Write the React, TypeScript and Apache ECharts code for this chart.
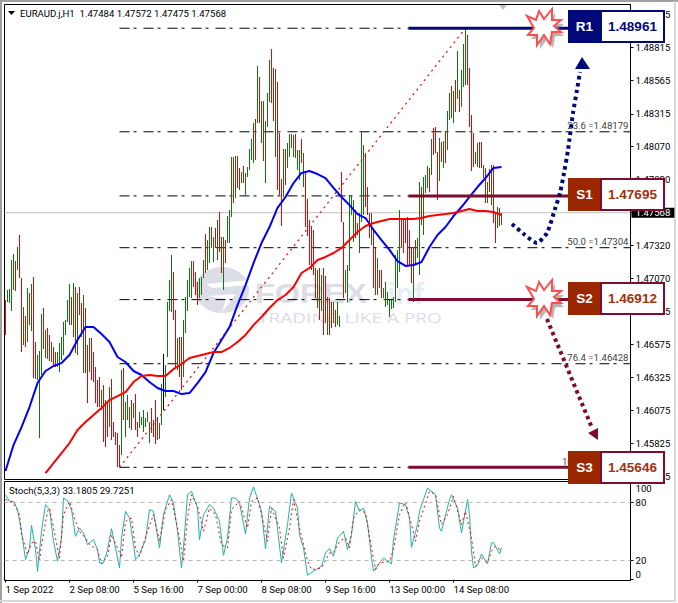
import React, { useEffect, useRef } from 'react';
import * as echarts from 'echarts';

// prices of the H1 bars, one entry per hour
const barHighs = [
  1.46909, 1.46985, 1.46992, 1.47211, 1.47256, 1.47203, 1.47309, 1.474, 1.47075, 1.46856,
  1.46788, 1.47, 1.46962, 1.4703, 1.47083, 1.46592, 1.46494, 1.46524, 1.46803, 1.46849,
  1.46683, 1.46698, 1.46645, 1.46592, 1.46554, 1.46516, 1.46516, 1.46584, 1.4663, 1.46743,
  1.46758, 1.46909, 1.4703, 1.46932, 1.47037, 1.47007, 1.46962, 1.47007, 1.46886, 1.46947,
  1.46849, 1.46569, 1.46622, 1.46622, 1.46516, 1.46403, 1.46305, 1.46328, 1.4623, 1.46267,
  1.46154, 1.46131, 1.46252, 1.46313, 1.45988, 1.45913, 1.45905, 1.45814, 1.46381, 1.46396,
  1.46139, 1.46192, 1.46101, 1.46154, 1.46131, 1.46199, 1.45988, 1.46063, 1.46026, 1.46079,
  1.46018, 1.46063, 1.45988, 1.46094, 1.46003, 1.46154, 1.46026, 1.4598, 1.46275, 1.46501,
  1.46418, 1.46894, 1.4706, 1.47249, 1.4712, 1.46834, 1.46622, 1.4663, 1.4663, 1.46758,
  1.46932, 1.4706, 1.47151, 1.47203, 1.47203, 1.4712, 1.47045, 1.47075, 1.47083, 1.47211,
  1.47407, 1.47362, 1.4746, 1.4746, 1.47385, 1.47453, 1.47513, 1.47573, 1.47385, 1.47385,
  1.47362, 1.47543, 1.47589, 1.47989, 1.47989, 1.47996, 1.47996, 1.47906, 1.47875, 1.47921,
  1.47868, 1.47913, 1.48049, 1.48125, 1.48245, 1.48276, 1.48676, 1.48593, 1.48411, 1.48411,
  1.4826, 1.48472, 1.48721, 1.48804, 1.48661, 1.48653, 1.48555, 1.4817, 1.47823, 1.48049,
  1.48049, 1.48094, 1.48162, 1.48162, 1.48155, 1.48162, 1.48042, 1.48042, 1.48125, 1.48019,
  1.47875, 1.47672, 1.47513, 1.47468, 1.47437, 1.47151, 1.47136, 1.47151, 1.47098, 1.47151,
  1.4709, 1.46932, 1.46924, 1.46894, 1.46894, 1.46834, 1.46894, 1.46788, 1.47875, 1.47498,
  1.47136, 1.47173, 1.47702, 1.47702, 1.47664, 1.47589, 1.4749, 1.47566, 1.48177, 1.48079,
  1.48019, 1.47762, 1.47566, 1.47566, 1.47453, 1.47302, 1.47226, 1.47136, 1.47136, 1.47,
  1.47045, 1.4697, 1.46909, 1.46909, 1.46932, 1.47249, 1.47287, 1.47589, 1.47513, 1.47513,
  1.47513, 1.47536, 1.47437, 1.47309, 1.47309, 1.47362, 1.47377, 1.478, 1.47762, 1.47838,
  1.47853, 1.47921, 1.47906, 1.48125, 1.48208, 1.48215, 1.48026, 1.48132, 1.48102, 1.48109,
  1.48185, 1.48336, 1.48472, 1.48525, 1.48487, 1.4857, 1.48789, 1.48495, 1.48646, 1.48842,
  1.48963, 1.4891, 1.48661, 1.48306, 1.4817, 1.48026, 1.48094, 1.48102, 1.48102, 1.47928,
  1.47906, 1.478, 1.47898, 1.47928, 1.47928, 1.47566, 1.47611, 1.47604, 1.47566,
];
const barLows = [
  1.46645, 1.46894, 1.46886, 1.46826, 1.46985, 1.46977, 1.47136, 1.47075, 1.46516, 1.46569,
  1.46554, 1.46592, 1.4672, 1.46675, 1.4632, 1.46313, 1.46305, 1.45867, 1.46343, 1.46539,
  1.46471, 1.46464, 1.46448, 1.46441, 1.46418, 1.46403, 1.46403, 1.46365, 1.46456, 1.46494,
  1.46645, 1.46743, 1.4672, 1.4672, 1.4663, 1.46509, 1.46494, 1.46796, 1.4663, 1.46358,
  1.46358, 1.46131, 1.46365, 1.46305, 1.4629, 1.46131, 1.46101, 1.46101, 1.46079, 1.45837,
  1.45799, 1.45875, 1.4595, 1.45852, 1.45875, 1.45814, 1.45648, 1.45648, 1.45739, 1.46003,
  1.45875, 1.46003, 1.45943, 1.45928, 1.46018, 1.45928, 1.45875, 1.45943, 1.45965, 1.45913,
  1.4595, 1.45988, 1.45829, 1.45905, 1.45875, 1.45822, 1.45852, 1.4586, 1.45965, 1.46079,
  1.46177, 1.46479, 1.46826, 1.46818, 1.46758, 1.46396, 1.46381, 1.46328, 1.4623, 1.46328,
  1.4666, 1.46826, 1.46932, 1.46924, 1.47007, 1.46947, 1.46871, 1.46924, 1.46947, 1.47075,
  1.47113, 1.47136, 1.47188, 1.47302, 1.47196, 1.47302, 1.47211, 1.47271, 1.47113, 1.46985,
  1.47188, 1.47339, 1.47339, 1.47536, 1.47641, 1.47679, 1.47755, 1.4774, 1.47792, 1.47792,
  1.47702, 1.47838, 1.4789, 1.47966, 1.47943, 1.47966, 1.48245, 1.48245, 1.48094, 1.47958,
  1.47792, 1.48215, 1.48404, 1.48396, 1.4826, 1.47989, 1.4774, 1.47702, 1.47468, 1.47687,
  1.47777, 1.47906, 1.47989, 1.48057, 1.47989, 1.47981, 1.4789, 1.47815, 1.47943, 1.47762,
  1.4746, 1.47392, 1.47173, 1.47136, 1.47098, 1.46924, 1.46849, 1.46758, 1.46826, 1.46645,
  1.46735, 1.46645, 1.46645, 1.46698, 1.46735, 1.46705, 1.4672, 1.46705, 1.47498, 1.46924,
  1.46962, 1.46894, 1.47128, 1.47551, 1.47347, 1.47377, 1.474, 1.47264, 1.47498, 1.47551,
  1.47611, 1.47551, 1.47377, 1.47324, 1.47, 1.46947, 1.46947, 1.47, 1.46924, 1.46924,
  1.46856, 1.46871, 1.4678, 1.46841, 1.46849, 1.46894, 1.47, 1.4712, 1.47302, 1.47264,
  1.47339, 1.47173, 1.47173, 1.47037, 1.46894, 1.47173, 1.47226, 1.47098, 1.47475, 1.474,
  1.47717, 1.47755, 1.47724, 1.47853, 1.48004, 1.48019, 1.47664, 1.47807, 1.47951, 1.47906,
  1.47943, 1.48042, 1.48268, 1.48283, 1.48245, 1.48328, 1.48427, 1.48328, 1.48366, 1.48517,
  1.48532, 1.48532, 1.48215, 1.47883, 1.47913, 1.47936, 1.47913, 1.47906, 1.47906, 1.4783,
  1.47641, 1.47641, 1.47724, 1.47626, 1.4749, 1.47339, 1.47453, 1.47468, 1.47475,
];
// r = bear bar, g = bull bar, k = doji
const barDirs =
  'rggggrgrrg' + 'rgrgrrgggr' + 'grrgrrgggg' + 'gggrgrgrrg' + 'rrgrrrrrgr' +
  'rrgrrrrrgr' + 'gggrgrrggg' + 'gggrrrrggk' + 'ggggrrgrrg' + 'ggggrrrggg' +
  'rggrgrgrrg' + 'rgggrgrrgr' + 'gggggrgrgr' + 'gggrrgrrrg' + 'rggrgrggrg' +
  'rrrrrrgrgr' + 'rgrrgrggrr' + 'gggggrrggg' + 'rrrgrrgrrg' + 'ggggggggrr' +
  'rrrrgrggrg' + 'ggrgrrrgrg' + 'rggrgrgrgg' + 'grrrrggrrg' + 'rgrgrrgrg';

// fast MA, every 4th bar from bar 0
const blueMa = [
  1.45618, 1.45814, 1.4595, 1.46101, 1.46282, 1.46373, 1.46411, 1.46433, 1.46494, 1.46607,
  1.46705, 1.46705, 1.46652, 1.46592, 1.46479, 1.46441, 1.46373, 1.46343, 1.4629, 1.46245,
  1.46222, 1.46222, 1.46199, 1.46207, 1.46282, 1.46365, 1.46509, 1.46607, 1.46705, 1.46871,
  1.47022, 1.47188, 1.47339, 1.4746, 1.47604, 1.47687, 1.47792, 1.47868, 1.47883, 1.4786,
  1.4783, 1.47755, 1.47687, 1.47626, 1.47558, 1.47528, 1.47438, 1.47362, 1.47287, 1.47203,
  1.47166, 1.47173, 1.47196, 1.47309, 1.474, 1.4746, 1.47543, 1.47611, 1.47687, 1.47762,
  1.4783, 1.47906, 1.47913,
];
// slow MA, every 4th bar from bar 20
const redMaStart = 20;
const redMa = [
  1.45603, 1.45678, 1.45754, 1.45829, 1.45928, 1.45988, 1.46041, 1.46094, 1.46154, 1.46184,
  1.46214, 1.4629, 1.46335, 1.46343, 1.46335, 1.46335, 1.46388, 1.46426, 1.46471, 1.46486,
  1.46501, 1.46516, 1.46516, 1.46547, 1.46592, 1.46645, 1.4672, 1.46781, 1.46849, 1.46909,
  1.46947, 1.47007, 1.47113, 1.47151, 1.47211, 1.47234, 1.47264, 1.47302, 1.47362, 1.47422,
  1.47468, 1.4749, 1.47505, 1.4752, 1.4752, 1.4752, 1.4752, 1.47528, 1.47543, 1.47551,
  1.47558, 1.47566, 1.47581, 1.47596, 1.47581, 1.47581, 1.47573, 1.47551,
];

const stochMainBars = [
  0, 2, 4, 6, 8, 10, 12, 13, 15, 16, 18, 20, 22, 24, 26, 28, 29, 31, 33, 35, 37, 39, 41, 44, 46, 47, 49, 51, 53, 55,
  57, 58, 60, 62, 64, 65, 67, 70, 72, 74, 77, 79, 82, 84, 86, 88, 89, 91, 93, 96, 97, 99, 102, 104, 107, 109, 111, 113, 115, 117,
  120, 122, 124, 127, 128, 130, 132, 135, 138, 141, 143, 146, 147, 149, 151, 154, 158, 160, 162, 164, 166, 169, 171, 173, 175, 177, 179, 181, 183, 184,
  187, 189, 193, 194, 197, 200, 202, 203, 206, 207, 211, 215, 217, 218, 222, 223, 226, 228, 231, 232, 233, 234, 236, 238, 241, 243, 244, 247, 248,
];
const stochMain = [
  87.9, 81, 81, 72.4, 50, 20.7, 32.8, 56.2, 31, 8.6, 50, 77.6, 72.4, 39.7, 19, 43, 84.5, 81.7, 72.4, 44.8, 53.4, 48.3, 36.2, 41.4, 31, 17.2, 17.2, 31, 52.8, 32.8,
  12, 43, 70.7, 63.8, 36.2, 20.7, 25.9, 41.4, 72.4, 70.7, 32.8, 67.2, 87.9, 79.3, 50, 12, 32.8, 87.9, 91.4, 74.1, 41.4, 67.2, 77.6, 74.1, 60.3, 25.2, 43, 84.5, 84.5, 79.3,
  47.2, 84.5, 95.9, 77.6, 70.7, 32.1, 75.9, 70.7, 17.2, 56.9, 89.7, 74.1, 46.6, 32.8, 4.5, 8.6, 13.8, 27.6, 32.1, 24.1, 43, 50, 31, 46.6, 81, 70.7, 74.1, 58.6, 22.4, 8.6,
  17.2, 22.4, 16.2, 41.4, 79.3, 77.6, 63.8, 33.4, 56.9, 70.7, 94.8, 87.9, 53.4, 50, 82.8, 87.9, 74.1, 48.3, 82.8, 67.2, 29.3, 12, 14.8, 26.6, 16.2, 37.9, 38.6, 26.6, 33.18,
];
const stochSignalBars = [
  0, 4, 7, 8, 11, 13, 15, 17, 18, 21, 22, 25, 27, 29, 32, 35, 37, 40, 42, 46, 48, 51, 53, 56, 58, 60, 63, 65, 67, 71,
  74, 77, 80, 83, 86, 89, 91, 93, 96, 99, 102, 105, 108, 111, 113, 117, 121, 123, 126, 128, 131, 133, 137, 139, 142, 144, 147, 151, 153, 158,
  162, 164, 167, 170, 172, 174, 177, 180, 183, 185, 187, 192, 194, 197, 200, 203, 205, 207, 212, 215, 218, 221, 224, 228, 230, 233, 235, 238, 241, 243, 245, 248,
];
const stochSignal = [
  82.8, 79.3, 67.2, 46.6, 25.9, 37.9, 39.7, 19, 36.2, 70.7, 74.1, 43, 22.4, 67.2, 81, 60.3, 50, 43, 36.2, 31, 16.2, 24.1, 46.6, 32.8, 22.4, 60.3, 63.8, 32.8, 24.1, 50,
  67.2, 39.7, 72.4, 82.8, 53.4, 19, 63.8, 87.9, 75.9, 50, 74.1, 67.2, 36.2, 32.8, 72.4, 81, 53.4, 81, 84.5, 67.2, 39.7, 74.1, 53.4, 22.4, 53.4, 82.8, 53.4, 19, 10.3, 12,
  27.6, 27.6, 39.7, 43.1, 32.8, 63.8, 72.4, 69, 32.8, 10.3, 17.2, 19, 31, 67.2, 80.3, 56.9, 39.7, 60.3, 91.4, 87.9, 56.9, 67.2, 86.2, 56.9, 70.7, 43.1, 13.8, 22.4, 17.2, 29.3, 34.5, 29.73,
];

// fibonacci grid, labels under the call-out boxes are left out
const fibPrices = [1.48961, 1.48179, 1.47695, 1.47304, 1.46912, 1.46428, 1.45646];
const fibLabelNames = ['23.6', '50.0', '76.4', '100.0'];
const fibLabelPrices = [1.48179, 1.47304, 1.46428, 1.45646];
const fibStartBar = 57;
const lastSlot = 312.5;
const trendBars = [57, 230];
const trendPrices = [1.45646, 1.48961];

const priceTicks = [
  1.49065, 1.48815, 1.48565, 1.48315, 1.4807, 1.4782, 1.4757, 1.4732, 1.4707, 1.46825,
  1.46575, 1.46325, 1.46075, 1.45825, 1.45575,
];
// 1.47570 sits under the black last price tag
const priceLabels = priceTicks.filter(v => v !== 1.4757);
const timeBars = [0, 32, 64, 96, 128, 160, 192, 224];
const timeLabels = [
  '1 Sep 2022', '2 Sep 08:00', '5 Sep 16:00', '7 Sep 00:00',
  '8 Sep 08:00', '9 Sep 16:00', '13 Sep 00:00', '14 Sep 08:00',
];
const stochTicks = [0, 20, 80, 100];
const lastPrice = 1.47568;

// support / resistance call-outs
const levelNames = ['R1', 'S1', 'S2', 'S3'];
const levelPrices = [1.48961, 1.47695, 1.46912, 1.45646];
const levelColors = ['#00087a', '#7d0c2e', '#7d0c2e', '#7d0c2e'];
const levelBoxTops = [10, 178, 282, 451];
const levelStartBar = 201.5;
const levelEndBar = 281.5;

const AXIS_FONT = 'Roboto';
const NAVY = '#00087a';
const MAROON = '#7d0c2e';
const BROWN = '#9b2700';

const starPoints = [
  [-17, -11], [-8, -7], [-5, -16], [0, -8], [8, -18], [8, -7], [17, -7], [10, -1],
  [17, 5], [8, 5], [6, 17], [0, 8], [-7, 18], [-7, 8], [-16, 8], [-10, 1],
];

const star = (cx: number, cy: number) => [
  {
    type: 'polygon',
    z: 50,
    shape: { points: starPoints.map(p => [p[0] + cx + 3, p[1] + cy + 4]) },
    style: { fill: 'rgba(120,120,120,0.45)', shadowBlur: 3, shadowColor: 'rgba(120,120,120,0.5)' },
  },
  {
    type: 'polygon',
    z: 51,
    shape: { points: starPoints.map(p => [p[0] + cx, p[1] + cy]) },
    style: { fill: '#ffffff', stroke: '#ff4d4d', lineWidth: 2 },
  },
];

const levelBox = (i: number) => {
  const top = levelBoxTops[i];
  const isResistance = levelNames[i] === 'R1';
  const fill = isResistance ? NAVY : BROWN;
  const height = 33;
  return [
    { type: 'rect', z: 60, shape: { x: 568, y: top, width: 33, height }, style: { fill } },
    {
      type: 'rect',
      z: 60,
      shape: { x: 601, y: top + 1, width: 63, height: height - 2 },
      style: { fill: '#ffffff', stroke: levelColors[i], lineWidth: 2 },
    },
    {
      type: 'text',
      z: 61,
      style: {
        x: 584.5,
        y: top + height / 2,
        text: levelNames[i],
        fill: '#ffffff',
        font: 'bold 13.5px "Liberation Sans"',
        align: 'center',
        verticalAlign: 'middle',
      },
    },
    {
      type: 'text',
      z: 61,
      style: {
        x: 632.5,
        y: top + height / 2,
        text: levelPrices[i].toFixed(5),
        fill: isResistance ? NAVY : '#a5300c',
        font: 'bold 13.5px "Liberation Sans"',
        align: 'center',
        verticalAlign: 'middle',
      },
    },
  ];
};

const App: React.FC = () => {
  const chartRef = useRef<HTMLDivElement>(null);

  useEffect(() => {
    if (!chartRef.current) return;
    document.body.style.margin = '0';

    const chart = echarts.init(chartRef.current, undefined, { renderer: 'svg' });

    const barData = barHighs.map((high, i) => [i, high, barLows[i], barDirs[i]]);

    const option: any = {
      animation: false,
      backgroundColor: '#ffffff',
      grid: [
        { left: 4.5, top: 4.5, width: 626, height: 475, show: true, borderColor: '#000', borderWidth: 1, backgroundColor: 'transparent' },
        { left: 4.5, top: 483, width: 626, height: 96.6 },
      ],
      xAxis: [
        { type: 'value', gridIndex: 0, min: -0.5, max: lastSlot, show: false },
        {
          type: 'value',
          gridIndex: 1,
          min: -0.5,
          max: lastSlot,
          splitLine: { show: false },
          axisLine: { show: false },
          axisTick: { show: true, length: 3, customValues: timeBars, lineStyle: { color: '#000' } },
          axisLabel: {
            customValues: timeBars,
            align: 'left',
            margin: 5,
            fontFamily: AXIS_FONT,
            fontSize: 9.6,
            color: '#000',
            formatter: (v: number) => timeLabels[timeBars.indexOf(v)] ?? '',
          },
        },
      ],
      yAxis: [
        {
          type: 'value',
          gridIndex: 0,
          position: 'right',
          min: 1.45554,
          max: 1.4914,
          splitLine: { show: false },
          axisLine: { show: true, onZero: false, lineStyle: { color: '#000' } },
          axisTick: { show: true, length: 3, customValues: priceTicks, lineStyle: { color: '#000' } },
          axisLabel: {
            customValues: priceLabels,
            margin: 5,
            fontFamily: AXIS_FONT,
            fontSize: 9.6,
            color: '#000',
            formatter: (v: number) => v.toFixed(5),
          },
        },
        {
          type: 'value',
          gridIndex: 1,
          position: 'right',
          min: 0,
          max: 100,
          splitLine: { show: false },
          axisLine: { show: true, onZero: false, lineStyle: { color: '#000' } },
          axisTick: { show: true, length: 3, customValues: stochTicks, lineStyle: { color: '#000' } },
          axisLabel: {
            customValues: stochTicks,
            margin: 5,
            fontFamily: AXIS_FONT,
            fontSize: 9.6,
            color: '#000',
            verticalAlignMaxLabel: 'top',
            verticalAlignMinLabel: 'bottom',
          },
        },
      ],
      series: [
        // last price line with its tag on the axis
        {
          type: 'line',
          xAxisIndex: 0,
          yAxisIndex: 0,
          z: 1,
          silent: true,
          symbol: 'none',
          lineStyle: { color: '#c0c0c0', width: 1 },
          data: [[-0.5, lastPrice], [lastSlot, lastPrice]],
          endLabel: {
            show: true,
            distance: 1,
            formatter: lastPrice.toFixed(5),
            backgroundColor: '#000',
            color: '#fff',
            fontFamily: AXIS_FONT,
            fontSize: 9.6,
            padding: [0, 4, 0, 4],
            lineHeight: 10,
          },
        },
        // fib levels
        ...fibPrices.map(price => ({
          type: 'line',
          xAxisIndex: 0,
          yAxisIndex: 0,
          z: 1,
          silent: true,
          symbol: 'none',
          lineStyle: { color: '#000', width: 1, type: [10, 4, 3, 7] },
          data: [[fibStartBar, price], [lastSlot, price]],
        })),
        {
          type: 'scatter',
          xAxisIndex: 0,
          yAxisIndex: 0,
          z: 3,
          silent: true,
          symbolSize: 0,
          data: fibLabelPrices.map(price => [lastSlot, price]),
          label: {
            show: true,
            position: 'left',
            offset: [0, -6],
            distance: 2,
            fontFamily: AXIS_FONT,
            fontSize: 9.6,
            color: '#000',
            formatter: (p: any) => `${fibLabelNames[p.dataIndex]} =${fibLabelPrices[p.dataIndex].toFixed(5)}`,
          },
        },
        // dotted trend line of the fib grid
        {
          type: 'line',
          xAxisIndex: 0,
          yAxisIndex: 0,
          z: 2,
          silent: true,
          symbol: 'none',
          lineStyle: { color: '#f00000', width: 1.2, type: [2, 4] },
          data: trendBars.map((bar, i) => [bar, trendPrices[i]]),
        },
        // bars
        {
          type: 'custom',
          xAxisIndex: 0,
          yAxisIndex: 0,
          z: 3,
          silent: true,
          encode: { x: 0, y: [1, 2] },
          data: barData,
          renderItem: (_params: any, api: any) => {
            const bar = api.value(0);
            const top = api.coord([bar, api.value(1)]);
            const bottom = api.coord([bar, api.value(2)]);
            const dir = barDirs[bar];
            return {
              type: 'line',
              shape: { x1: top[0], y1: top[1], x2: bottom[0], y2: bottom[1] },
              style: {
                stroke: dir === 'r' ? '#f00000' : dir === 'g' ? '#0a7a0a' : '#000000',
                lineWidth: 1,
              },
            };
          },
        },
        // moving averages
        {
          type: 'line',
          xAxisIndex: 0,
          yAxisIndex: 0,
          z: 4,
          silent: true,
          symbol: 'none',
          lineStyle: { color: '#0000ff', width: 2 },
          data: blueMa.map((v, i) => [i * 4, v]),
        },
        {
          type: 'line',
          xAxisIndex: 0,
          yAxisIndex: 0,
          z: 4,
          silent: true,
          symbol: 'none',
          lineStyle: { color: '#ff0000', width: 2 },
          data: redMa.map((v, i) => [redMaStart + i * 4, v]),
        },
        // S/R lines
        ...levelPrices.map((price, i) => ({
          type: 'line',
          xAxisIndex: 0,
          yAxisIndex: 0,
          z: 5,
          silent: true,
          symbol: 'none',
          lineStyle: { color: levelColors[i], width: 3 },
          data: [[levelStartBar, price], [levelEndBar, price]],
        })),
        // stochastic
        {
          type: 'line',
          xAxisIndex: 1,
          yAxisIndex: 1,
          z: 3,
          silent: true,
          symbol: 'none',
          lineStyle: { color: '#20b2aa', width: 1 },
          data: stochMain.map((v, i) => [stochMainBars[i], v]),
          markLine: {
            silent: true,
            symbol: 'none',
            animation: false,
            label: { show: false },
            lineStyle: { color: '#b8b8b8', width: 1, type: [4, 4] },
            data: [{ yAxis: 80 }, { yAxis: 20 }],
          },
        },
        {
          type: 'line',
          xAxisIndex: 1,
          yAxisIndex: 1,
          z: 4,
          silent: true,
          symbol: 'none',
          lineStyle: { color: '#ff0000', width: 1, type: [2, 3] },
          data: stochSignal.map((v, i) => [stochSignalBars[i], v]),
        },
      ],
      graphic: [
        // window edge
        { type: 'polyline', z: 1, shape: { points: [[1, 603], [1, 1], [678, 1]] }, style: { stroke: '#a0a0a0', lineWidth: 2, fill: 'none' } },
        { type: 'polyline', z: 1, shape: { points: [[675, 1], [675, 601], [0, 601]] }, style: { stroke: '#d8d8d8', lineWidth: 2, fill: 'none' } },
        // stochastic pane frame
        { type: 'rect', z: 1, shape: { x: 4.5, y: 481.5, width: 626, height: 99 }, style: { fill: 'none', stroke: '#000', lineWidth: 1 } },
        // watermark
        { type: 'ellipse', z: 0, shape: { cx: 222, cy: 290, rx: 27, ry: 23 }, style: { fill: '#dcdde6' } },
        { type: 'polygon', z: 0, shape: { points: [[206, 284], [250, 280], [250, 285], [212, 288]] }, style: { fill: '#ffffff' } },
        { type: 'polygon', z: 0, shape: { points: [[208, 296], [236, 294], [222, 312], [226, 299]] }, style: { fill: '#ffffff' } },
        {
          type: 'text',
          z: 0,
          x: 255,
          y: 293,
          scaleX: 1.16,
          style: { x: 0, y: 0, text: 'FOREX', fill: '#dcdde6', font: 'bold 28px "Liberation Sans"', align: 'left', verticalAlign: 'middle' },
        },
        {
          type: 'text',
          z: 0,
          x: 387,
          y: 293,
          style: { x: 0, y: 0, text: 'inf', fill: '#e4eef3', font: 'bold 30px "Liberation Sans"', align: 'left', verticalAlign: 'middle' },
        },
        {
          type: 'text',
          z: 0,
          x: 258,
          y: 318,
          scaleX: 1.36,
          style: { x: 0, y: 0, text: 'TRADING LIKE A PRO', fill: '#dcdde6', font: '14px "Open Sans"', align: 'left', verticalAlign: 'middle' },
        },
        // legends
        { type: 'polygon', z: 30, shape: { points: [[8, 11], [15, 11], [11.5, 15]] }, style: { fill: '#000' } },
        { type: 'polygon', z: 30, shape: { points: [[499, 5], [507, 5], [503, 10]] }, style: { fill: '#c0c0c0' } },
        {
          type: 'text',
          z: 30,
          style: {
            x: 20,
            y: 13,
            text: 'EURAUD.j,H1  1.47484 1.47572 1.47475 1.47568',
            fill: '#000',
            font: `9.6px ${AXIS_FONT}`,
            verticalAlign: 'middle',
          },
        },
        {
          type: 'text',
          z: 30,
          style: {
            x: 9,
            y: 490.5,
            text: 'Stoch(5,3,3) 33.1805 29.7251',
            fill: '#000',
            font: `9.6px ${AXIS_FONT}`,
            verticalAlign: 'middle',
          },
        },
        // hand drawn scenario arrows
        {
          type: 'polyline',
          z: 40,
          shape: {
            points: [[512, 224], [525, 235], [537, 243], [547, 233], [555, 209], [560, 193], [564, 173], [568, 150], [573, 113], [577, 90], [580, 72]],
            smooth: 0.2,
          },
          style: { stroke: NAVY, lineWidth: 4, lineDash: [3.5, 3.5], fill: 'none' },
        },
        { type: 'polygon', z: 40, shape: { points: [[582, 57], [575, 69], [590, 69]] }, style: { fill: NAVY } },
        {
          type: 'line',
          z: 40,
          shape: { x1: 547, y1: 319, x2: 592, y2: 428 },
          style: { stroke: MAROON, lineWidth: 4, lineDash: [3.5, 3.5] },
        },
        { type: 'polygon', z: 40, shape: { points: [[598, 440], [588, 433], [598, 428]] }, style: { fill: MAROON } },
        // call-outs
        ...star(544, 27),
        ...star(544, 298),
        ...levelNames.flatMap((_, i) => levelBox(i)),
      ],
    };

    chart.setOption(option);

    return () => {
      chart.dispose();
    };
  }, []);

  return (
    <div
      ref={chartRef}
      style={{ position: 'absolute', left: 0, top: 0, width: 678, height: 603 }}
    />
  );
};

export default App;
